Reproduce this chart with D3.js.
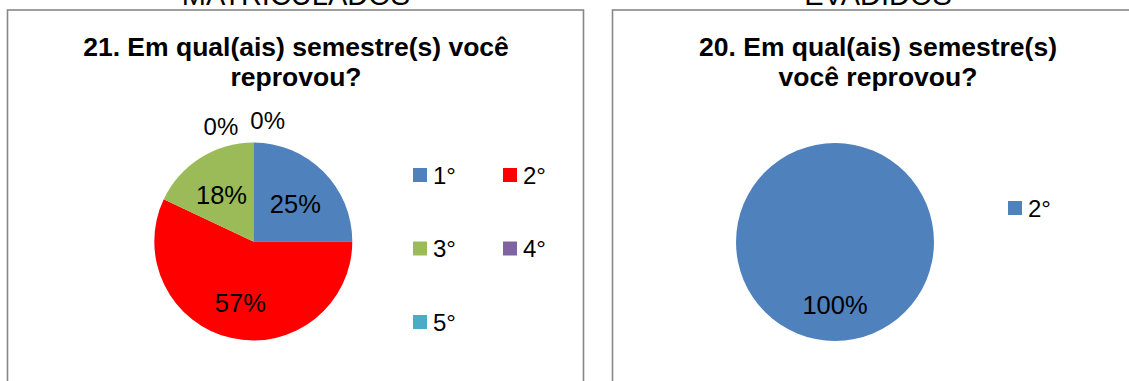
<!DOCTYPE html>
<html>
<head>
<meta charset="utf-8">
<script src="https://cdn.jsdelivr.net/npm/d3@7"></script>
<style>
  html, body { margin: 0; padding: 0; background: #fff; }
  svg { display: block; font-family: "Liberation Sans", Arial, sans-serif; }
</style>
</head>
<body>
<svg id="chart" width="1129" height="381"></svg>
<script>
// ---- data ----
const groupTitles = ["MATRICULADOS", "EVADIDOS"];
const chartTitlesLeft = ["21. Em qual(ais) semestre(s) você", "reprovou?"];
const chartTitlesRight = ["20. Em qual(ais) semestre(s)", "você reprovou?"];
const leftCategories = ["1°", "2°", "3°", "4°", "5°"];
const leftValues = [25, 57, 18, 0, 0];
const rightCategories = ["2°"];
const rightValues = [100];
const palette = ["#4F81BD", "#FF0000", "#9BBB59", "#8064A2", "#4BACC6"];

const svg = d3.select("#chart");

const panels = [
  { x: 7.5, w: 576, cx: 253.3, cy: 241.5, titleX: 296, groupX: 296,
    titles: chartTitlesLeft, cats: leftCategories, vals: leftValues,
    colors: palette, legendX: 413, legendCols: 2, legendColW: 90, legendY: 168, legendRowH: 73.5 },
  { x: 612.5, w: 600, cx: 835, cy: 242, titleX: 878, groupX: 878,
    titles: chartTitlesRight, cats: rightCategories, vals: rightValues,
    colors: [palette[0]], legendX: 1008, legendCols: 1, legendColW: 90, legendY: 201, legendRowH: 73.5 }
];
const R = 99;

panels.forEach((p, pi) => {
  const g = svg.append("g");
  g.append("rect")
    .attr("x", p.x).attr("y", 10)
    .attr("width", p.w).attr("height", 420)
    .attr("fill", "none").attr("stroke", "#878787").attr("stroke-width", 1.6);

  // group title (cut off at the top edge, as in the reference)
  g.append("text")
    .attr("x", p.groupX).attr("y", 5)
    .attr("text-anchor", "middle")
    .attr("font-size", 29).attr("fill", "#000")
    .text(groupTitles[pi]);

  p.titles.forEach((t, i) => {
    g.append("text")
      .attr("x", p.titleX).attr("y", 56 + i * 29.5)
      .attr("text-anchor", "middle")
      .attr("font-size", 26.5).attr("font-weight", "bold").attr("fill", "#000")
      .text(t);
  });

  const data = p.cats.map((c, i) => ({ cat: c, val: p.vals[i], color: p.colors[i] }));
  const pie = d3.pie().sort(null).value(d => d.val);
  const arcs = pie(data);
  const arc = d3.arc().innerRadius(0).outerRadius(R);
  const labelArc = d3.arc().innerRadius(R * 0.6).outerRadius(R * 0.6);
  const pg = g.append("g").attr("transform", `translate(${p.cx},${p.cy})`);
  pg.selectAll("path").data(arcs).enter().append("path")
    .attr("d", arc).attr("fill", d => d.data.color);

  let zeroCount = 0;
  arcs.forEach(a => {
    const pct = Math.round(a.data.val / d3.sum(p.vals) * 100) + "%";
    if (a.data.val > 0) {
      let [lx, ly] = labelArc.centroid(a);
      if (arcs.length === 1) { lx = 0; ly = R * 0.6; }
      pg.append("text")
        .attr("x", lx).attr("y", ly + 4)
        .attr("text-anchor", "middle").attr("dominant-baseline", "central")
        .attr("font-size", 25.5).attr("fill", "#000")
        .text(pct);
    } else {
      const ang = a.startAngle;
      const ox = Math.sin(ang) * (R + 12);
      const oy = -Math.cos(ang) * (R + 12);
      const first = zeroCount === 0;
      pg.append("text")
        .attr("x", first ? ox - 15 : ox - 3)
        .attr("y", first ? oy + 4 : oy - 2)
        .attr("text-anchor", first ? "end" : "start")
        .attr("font-size", 24).attr("fill", "#000")
        .text(pct);
      zeroCount++;
    }
  });

  const lg = g.append("g");
  data.forEach((d, i) => {
    const col = i % p.legendCols, row = Math.floor(i / p.legendCols);
    const x = p.legendX + col * p.legendColW;
    const y = p.legendY + row * p.legendRowH;
    lg.append("rect").attr("x", x).attr("y", y).attr("width", 14).attr("height", 14)
      .attr("fill", d.color);
    lg.append("text").attr("x", x + 20).attr("y", y + 15.5)
      .attr("font-size", 24).attr("fill", "#000").text(d.cat);
  });
});
</script>
</body>
</html>
